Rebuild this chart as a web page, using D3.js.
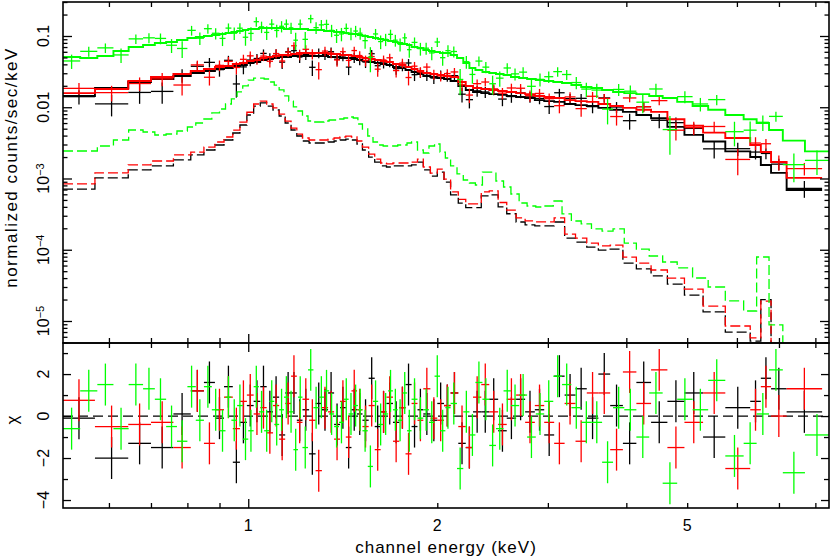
<!DOCTYPE html>
<html>
<head>
<meta charset="utf-8">
<script src="https://cdn.jsdelivr.net/npm/d3@7"></script>
<style>
  body { margin: 0; background: #fff; }
  svg text { font-family: "Liberation Sans", Arial, sans-serif; fill: #000; }
</style>
</head>
<body>
<svg id="chart" width="830" height="558"></svg>
<script>
// ---- channel grouping (keV bin edges) ----
const mosEdges = [0.507, 0.57, 0.644, 0.70, 0.76, 0.81, 0.85, 0.885, 0.915, 0.945,
  0.97, 0.995, 1.02, 1.045, 1.07, 1.095, 1.12, 1.145, 1.17, 1.195,
  1.22, 1.25, 1.28, 1.31, 1.34, 1.37, 1.40, 1.43, 1.46, 1.49,
  1.52, 1.555, 1.59, 1.625, 1.66, 1.70, 1.74, 1.78, 1.82, 1.86,
  1.90, 1.95, 2.00, 2.05, 2.10, 2.16, 2.22, 2.28, 2.35, 2.42,
  2.50, 2.58, 2.67, 2.76, 2.86, 2.96, 3.07, 3.19, 3.32, 3.46,
  3.61, 3.77, 3.95, 4.15, 4.38, 4.65, 4.95, 5.3, 5.75, 6.3,
  6.55, 6.8, 7.2, 8.2];

const pnEdges = [0.507, 0.54, 0.575, 0.61, 0.645, 0.68, 0.71, 0.74, 0.77, 0.80,
  0.825, 0.85, 0.875, 0.90, 0.92, 0.94, 0.96, 0.98, 1.00, 1.02,
  1.04, 1.06, 1.08, 1.10, 1.12, 1.14, 1.16, 1.18, 1.20, 1.22,
  1.245, 1.27, 1.295, 1.32, 1.345, 1.37, 1.395, 1.42, 1.445, 1.47,
  1.495, 1.52, 1.55, 1.58, 1.61, 1.64, 1.67, 1.70, 1.73, 1.76,
  1.79, 1.82, 1.86, 1.90, 1.94, 1.98, 2.02, 2.06, 2.10, 2.15,
  2.20, 2.25, 2.30, 2.36, 2.42, 2.48, 2.55, 2.62, 2.70, 2.78,
  2.87, 2.96, 3.06, 3.16, 3.27, 3.39, 3.52, 3.66, 3.81, 3.97,
  4.15, 4.35, 4.57, 4.82, 5.1, 5.4, 5.75, 6.15, 6.45, 6.75,
  7.1, 7.7, 8.41];

// ---- black (MOS1) ----
const blackModel = [0.0144, 0.0186, 0.0226, 0.0249, 0.0275, 0.0303, 0.0323, 0.0344, 0.0356, 0.0379,
  0.0392, 0.0418, 0.0432, 0.046, 0.0476, 0.0491, 0.0507, 0.0507, 0.0524, 0.0524,
  0.0524, 0.0524, 0.0524, 0.0524, 0.0507, 0.0507, 0.0491, 0.0491, 0.0476, 0.046,
  0.0446, 0.0432, 0.0418, 0.0405, 0.0392, 0.0367, 0.0356, 0.0333, 0.0313, 0.0293,
  0.0275, 0.0266, 0.0257, 0.0249, 0.0234, 0.0199, 0.0175, 0.0164, 0.0158, 0.0153,
  0.0149, 0.0144, 0.0139, 0.0135, 0.0126, 0.0122, 0.0119, 0.0111, 0.0107, 0.0104,
  0.0098, 0.0092, 0.0086, 0.0078, 0.0070, 0.0053, 0.0041, 0.0033, 0.0024, 0.0020,
  0.00155, 0.0012, 0.00069];
const blackLine = [0.00071, 0.00102, 0.00132, 0.0015, 0.00182, 0.00214, 0.00251, 0.00295, 0.00347, 0.00435,
  0.00563, 0.00778, 0.0104, 0.0115, 0.0104, 0.00915, 0.00754, 0.00601, 0.00479, 0.00395,
  0.00336, 0.00315, 0.00315, 0.00315, 0.00325, 0.00336, 0.00347, 0.00358, 0.00347, 0.00305,
  0.00251, 0.002, 0.0017, 0.0015, 0.00145, 0.0015, 0.0015, 0.0015, 0.00155, 0.0017,
  0.00132, 0.00108, 0.00123, 0.00089, 0.00059, 0.00045, 0.00039, 0.00039, 0.00057, 0.00059,
  0.0004, 0.00032, 0.000245, 0.000223, 0.000216, 0.000216, 0.000245, 0.000146, 0.000128, 0.000109,
  9.9e-5, 0.000102, 6.5e-5, 5.4e-5, 4.3e-5, 3.3e-5, 2.3e-5, 1.34e-5, 7.0e-6, 5.2e-6,
  2.0e-5, 2e-6, 1e-6];
const blackChi = [-0.1, -2.0, -1.3, -1.5, 0.1, 1.2, 1.6, -0.1, 1.4, -2.2,
  -0.3, 0.5, 0.7, 1.4, 0.2, 0.9, -0.9, 1.1, 1.1, -0.2,
  0.3, -1.8, 0.6, 0.3, 1.1, -0.4, 0.4, -1.5, 0.3, 0.1,
  -0.2, 1.8, -0.5, 0.2, 0.6, -0.3, 0.4, 1.5, -0.5, 0.3,
  0.1, -0.2, 0.6, 0.5, 1.1, -1.3, -1.5, 0.2, 0.2, 0.8,
  -0.7, -0.1, 0.8, 0.2, 0.3, -0.9, 1.9, 1.0, 1.3, -0.1,
  2.0, 0.5, -1.3, 1.6, -0.3, 0.7, 1.1, -1.0, 0.4, 0.7,
  1.8, 1.3, 0.2];
const blackErr = [0.22, 0.2, 0.22, 0.22, 0.22, 0.2, 0.2, 0.2, 0.2, 0.2,
  0.2, 0.2, 0.17, 0.17, 0.17, 0.17, 0.17, 0.17, 0.17, 0.17,
  0.17, 0.17, 0.17, 0.17, 0.17, 0.17, 0.17, 0.17, 0.17, 0.17,
  0.17, 0.17, 0.17, 0.17, 0.17, 0.17, 0.17, 0.17, 0.17, 0.17,
  0.17, 0.17, 0.17, 0.17, 0.17, 0.18, 0.18, 0.18, 0.18, 0.18,
  0.18, 0.18, 0.18, 0.18, 0.18, 0.18, 0.18, 0.19, 0.19, 0.19,
  0.19, 0.19, 0.19, 0.19, 0.21, 0.21, 0.21, 0.21, 0.23, 0.25,
  0.25, 0.25, 0.28];

// ---- red (MOS2) ----
const redModel = [0.0158, 0.018, 0.0234, 0.0266, 0.0293, 0.0323, 0.0344, 0.0367, 0.0379, 0.0405,
  0.0418, 0.0446, 0.046, 0.0491, 0.0507, 0.0524, 0.0541, 0.0541, 0.0559, 0.0577,
  0.0577, 0.0577, 0.0577, 0.0577, 0.0559, 0.0559, 0.0541, 0.0541, 0.0524, 0.0507,
  0.0491, 0.0476, 0.046, 0.0446, 0.0432, 0.0405, 0.0392, 0.0367, 0.0344, 0.0323,
  0.0303, 0.0293, 0.0284, 0.0275, 0.0266, 0.0226, 0.0199, 0.0186, 0.018, 0.0175,
  0.0169, 0.0164, 0.0158, 0.0153, 0.0144, 0.0139, 0.0135, 0.0126, 0.0122, 0.0119,
  0.0111, 0.0104, 0.0098, 0.0092, 0.0086, 0.0068, 0.0055, 0.0044, 0.0037, 0.00295,
  0.00235, 0.0017, 0.00102];
const redLine = [0.00084, 0.0012, 0.00155, 0.00176, 0.00214, 0.00235, 0.00276, 0.00325, 0.00382, 0.00478,
  0.0062, 0.0085, 0.0111, 0.0122, 0.0111, 0.0098, 0.008, 0.0064, 0.0051, 0.0042,
  0.0037, 0.00347, 0.00347, 0.00347, 0.00358, 0.0037, 0.00382, 0.00394, 0.00382, 0.00336,
  0.00276, 0.0022, 0.00187, 0.00165, 0.0016, 0.00165, 0.00165, 0.00165, 0.0017, 0.00187,
  0.00145, 0.00119, 0.00135, 0.00098, 0.00065, 0.00051, 0.00044, 0.00044, 0.00065, 0.00067,
  0.00046, 0.00036, 0.00028, 0.000254, 0.000246, 0.000246, 0.00028, 0.000166, 0.000146, 0.000124,
  0.000113, 0.000116, 7.9e-5, 6.5e-5, 5.2e-5, 4.0e-5, 2.8e-5, 1.62e-5, 8.5e-6, 5.8e-6,
  1.9e-5, 2e-6, 1e-6];
const redChi = [0.75, -0.5, -0.4, -0.3, -1.5, 1.2, -1.3, 0.3, 0.9, -0.6,
  0.7, 1.0, 0.1, 0.4, -0.8, 0.5, -1.1, 0.6, 1.9, -0.3,
  0.8, -0.2, -2.6, 0.4, 0.2, -1.1, 0.7, -1.0, 1.2, 0.3,
  -0.5, 0.5, -1.6, 0.2, 0.9, -1.2, 0.4, -1.8, 0.6, -0.2,
  1.3, -0.1, -0.2, 0.5, 1.1, -0.5, -1.5, 0.9, 1.5, 0.2,
  -0.4, 0.8, 1.0, -0.3, 0.5, -0.3, -1.3, 0.6, -1.2, 1.1,
  1.1, -1.6, 2.1, 0.6, 2.2, -1.5, -0.3, 1.1, -2.5, 0.3,
  1.4, 0.0, 1.3];
const redErr = [0.22, 0.22, 0.2, 0.2, 0.2, 0.18, 0.18, 0.18, 0.18, 0.18,
  0.18, 0.18, 0.16, 0.16, 0.16, 0.16, 0.16, 0.16, 0.16, 0.16,
  0.16, 0.16, 0.16, 0.16, 0.16, 0.16, 0.16, 0.16, 0.16, 0.16,
  0.16, 0.16, 0.16, 0.16, 0.16, 0.16, 0.16, 0.16, 0.16, 0.16,
  0.16, 0.16, 0.16, 0.16, 0.16, 0.17, 0.17, 0.17, 0.17, 0.17,
  0.17, 0.17, 0.17, 0.17, 0.17, 0.17, 0.17, 0.18, 0.18, 0.18,
  0.18, 0.18, 0.18, 0.18, 0.2, 0.2, 0.2, 0.2, 0.2, 0.22,
  0.22, 0.24, 0.27];

// ---- green (pn) ----
const greenModel = [0.0507, 0.0491, 0.0524, 0.0616, 0.0701, 0.0748, 0.0797, 0.0824, 0.0879, 0.0937,
  0.0968, 0.1, 0.1033, 0.1067, 0.1102, 0.1138, 0.1175, 0.1214, 0.1254, 0.1254,
  0.1295, 0.1295, 0.1295, 0.1295, 0.1295, 0.1254, 0.1254, 0.1254, 0.1254, 0.1254,
  0.1214, 0.1214, 0.1214, 0.1175, 0.1175, 0.1138, 0.1138, 0.1102, 0.1067, 0.1067,
  0.1033, 0.1, 0.0968, 0.0937, 0.0908, 0.0879, 0.0851, 0.0824, 0.0797, 0.0772,
  0.0748, 0.0701, 0.0679, 0.0636, 0.0616, 0.0596, 0.0577, 0.0577, 0.0541, 0.0491,
  0.0418, 0.0356, 0.0333, 0.0313, 0.0303, 0.0293, 0.0284, 0.0266, 0.0257, 0.0249,
  0.0241, 0.0234, 0.0226, 0.0219, 0.0205, 0.0192, 0.0186, 0.0175, 0.0164, 0.0158,
  0.0153, 0.0144, 0.0135, 0.0119, 0.0104, 0.0092, 0.0078, 0.0068, 0.0060, 0.0048,
  0.0034, 0.0024];
const greenLine = [0.00243, 0.00243, 0.00286, 0.00347, 0.00479, 0.00449, 0.00408, 0.00421, 0.00464, 0.00528,
  0.00601, 0.00684, 0.00831, 0.00945, 0.0111, 0.0131, 0.0164, 0.0199, 0.0241, 0.0257,
  0.0257, 0.0249, 0.0226, 0.0205, 0.0175, 0.0144, 0.0122, 0.0101, 0.00886, 0.00754,
  0.00641, 0.00621, 0.00621, 0.00641, 0.00662, 0.00662, 0.00684, 0.00706, 0.0073, 0.00706,
  0.00582, 0.00495, 0.00395, 0.00325, 0.00295, 0.00286, 0.00286, 0.00286, 0.00295, 0.00295,
  0.00315, 0.00325, 0.00251, 0.00228, 0.00286, 0.00305, 0.00235, 0.00194, 0.0015, 0.00116,
  0.000952, 0.000865, 0.00081, 0.00123, 0.00123, 0.000922, 0.00076, 0.000606, 0.000453, 0.000411,
  0.000398, 0.000411, 0.000483, 0.000318, 0.000253, 0.00023, 0.000196, 0.000183, 0.000196, 0.000124,
  0.000102, 8.17e-5, 6.73e-5, 5.55e-5, 4.01e-5, 3.0e-5, 1.91e-5, 1.38e-5, 7.91e-5, 8.8e-6,
  3e-6, 2e-6];
const greenChi = [-0.6, 1.2, 1.5, -0.6, 1.5, 1.3, 0.8, -0.5, -1.2, 1.4,
  -0.2, 1.4, 0.3, -0.7, 0.9, -0.2, 0.5, -1.1, -0.7, 1.4,
  0.2, -0.7, 0.7, -0.4, 0.3, 0.9, 0.2, -1.6, 0.9, -1.5,
  2.2, 0.4, 0.9, 1.2, 0.1, -0.5, -0.3, 0.8, 0.1, 0.5,
  0.3, -0.7, -2.4, 0.7, -0.4, 0.1, 1.2, 0.3, -0.2, 1.1,
  -0.7, 0.8, -0.1, 0.3, -0.3, 1.9, -0.7, 0.4, 0.6, -2.5,
  0.2, -0.9, 1.6, 0.8, -1.4, -0.6, 1.2, 0.5, 1.0, -1.0,
  0.1, 0.7, 1.9, 1.5, 0.4, -0.3, -0.3, -2.2, 0.4, 0.3,
  -1.0, 1.1, -3.2, 0.8, 0.3, 1.7, -1.9, -1.3, 0.1, 2.2,
  -2.7, -0.9];
const greenErr = [0.2, 0.2, 0.2, 0.2, 0.2, 0.2, 0.2, 0.2, 0.2, 0.2,
  0.19, 0.19, 0.19, 0.19, 0.19, 0.19, 0.19, 0.19, 0.19, 0.19,
  0.19, 0.19, 0.19, 0.19, 0.19, 0.19, 0.19, 0.19, 0.19, 0.19,
  0.2, 0.2, 0.2, 0.2, 0.2, 0.2, 0.2, 0.2, 0.2, 0.2,
  0.2, 0.2, 0.2, 0.2, 0.2, 0.2, 0.2, 0.2, 0.2, 0.2,
  0.2, 0.2, 0.2, 0.2, 0.2, 0.2, 0.2, 0.2, 0.2, 0.2,
  0.21, 0.21, 0.21, 0.21, 0.21, 0.21, 0.21, 0.21, 0.21, 0.21,
  0.21, 0.21, 0.21, 0.21, 0.21, 0.21, 0.21, 0.21, 0.21, 0.21,
  0.23, 0.23, 0.2, 0.23, 0.23, 0.23, 0.22, 0.23, 0.25, 0.25,
  0.2, 0.28];

// ---- axis labels ----
const yTopLabels = [0.1, 0.01, 1e-3, 1e-4, 1e-5];
const resLabels = [2, 0, -2, -4];
const xLabels = [1, 2, 5];

const svg = d3.select("#chart");

const x = d3.scaleLog().domain([0.507, 8.41]).range([63, 829]);
const yTop = d3.scaleLog().domain([4.91e-6, 0.3]).range([343, 2]);
const yRes = d3.scaleLinear().domain([-4.38, 3.48]).range([508, 343]);

const [xL, xR] = x.range();
const defs = svg.append("defs");
defs.append("clipPath").attr("id", "clipTop").append("rect")
  .attr("x", xL).attr("y", yTop.range()[1]).attr("width", xR - xL).attr("height", yTop.range()[0] - yTop.range()[1]);
defs.append("clipPath").attr("id", "clipRes").append("rect")
  .attr("x", xL).attr("y", yRes.range()[1]).attr("width", xR - xL).attr("height", yRes.range()[0] - yRes.range()[1]);

function makeBins(edges, model, line, chi, err) {
  return model.map((m, i) => ({ lo: edges[i], hi: edges[i + 1], m: m, c: line[i], chi: chi[i], r: err[i] }));
}

const datasets = [
  { color: "#000000", bins: makeBins(mosEdges, blackModel, blackLine, blackChi, blackErr) },
  { color: "#ff0000", bins: makeBins(mosEdges, redModel, redLine, redChi, redErr) },
  { color: "#00ff00", bins: makeBins(pnEdges, greenModel, greenLine, greenChi, greenErr) }
];

const gTop = svg.append("g").attr("clip-path", "url(#clipTop)");
const gRes = svg.append("g").attr("clip-path", "url(#clipRes)");

// zero line in residual panel
gRes.append("line")
  .attr("x1", xL).attr("x2", xR)
  .attr("y1", yRes(0)).attr("y2", yRes(0))
  .attr("stroke", "#000").attr("stroke-width", 1.3)
  .attr("stroke-dasharray", "10,5");

const stepLine = d3.line()
  .x(d => x(d[0]))
  .y(d => yTop(d[1]))
  .curve(d3.curveStepAfter);

function stepPts(bins, key) {
  const last = bins[bins.length - 1];
  return bins.map(b => [b.lo, b[key]]).concat([[last.hi, last[key]]]);
}

datasets.forEach(ds => {
  const b = ds.bins;
  const data = d => d.m * (1 + d.chi * d.r);
  const sig = d => d.m * d.r;

  // data crosses
  gTop.append("g").selectAll("line").data(b).join("line")
    .attr("x1", d => x(d.lo)).attr("x2", d => x(d.hi))
    .attr("y1", d => yTop(data(d))).attr("y2", d => yTop(data(d)))
    .attr("stroke", ds.color).attr("stroke-width", 1.3);
  gTop.append("g").selectAll("line").data(b).join("line")
    .attr("x1", d => x(Math.sqrt(d.lo * d.hi))).attr("x2", d => x(Math.sqrt(d.lo * d.hi)))
    .attr("y1", d => yTop(Math.max(data(d) - sig(d), 1e-9))).attr("y2", d => yTop(data(d) + sig(d)))
    .attr("stroke", ds.color).attr("stroke-width", 1.3);

  // total model
  gTop.append("path").attr("d", stepLine(stepPts(b, "m")))
    .attr("fill", "none").attr("stroke", ds.color).attr("stroke-width", 1.9);

  // line-emission component
  gTop.append("path").attr("d", stepLine(stepPts(b, "c")))
    .attr("fill", "none").attr("stroke", ds.color).attr("stroke-width", 1.3)
    .attr("stroke-dasharray", "10,4");

  // residuals
  gRes.append("g").selectAll("line").data(b).join("line")
    .attr("x1", d => x(d.lo)).attr("x2", d => x(d.hi))
    .attr("y1", d => yRes(d.chi)).attr("y2", d => yRes(d.chi))
    .attr("stroke", ds.color).attr("stroke-width", 1.3);
  gRes.append("g").selectAll("line").data(b).join("line")
    .attr("x1", d => x(Math.sqrt(d.lo * d.hi))).attr("x2", d => x(Math.sqrt(d.lo * d.hi)))
    .attr("y1", d => yRes(d.chi - 1)).attr("y2", d => yRes(d.chi + 1))
    .attr("stroke", ds.color).attr("stroke-width", 1.3);
});

// ---- ticks (inward on every side) ----
function drawTicks(axis, tx, ty) {
  const g = svg.append("g").attr("transform", `translate(${tx},${ty})`).call(axis);
  g.select(".domain").remove();
  g.selectAll(".tick text").remove();
  g.selectAll(".tick line").attr("stroke", "#000").attr("stroke-width", 1.3);
}
const isDecade = v => Math.abs(Math.log10(v) - Math.round(Math.log10(v))) < 1e-6;

const xMajor = x.ticks().filter(isDecade);
const xMinor = x.ticks().filter(v => !isDecade(v));
const yTopMajor = yTop.ticks().filter(isDecade);
const yTopMinor = yTop.ticks().filter(v => !isDecade(v));
const resMajor = d3.range(-4, 4).filter(v => v % 2 === 0);
const resMinor = d3.range(-4, 4).filter(v => v % 2 !== 0);

const [yTopB, yTopT] = yTop.range();
const [yResB, yResT] = yRes.range();

[[xMajor, 9], [xMinor, 5]].forEach(([vals, len]) => {
  drawTicks(d3.axisTop(x).tickValues(vals).tickSize(-len), 0, yTopT);
  drawTicks(d3.axisBottom(x).tickValues(vals).tickSize(-len), 0, yTopB);
  drawTicks(d3.axisTop(x).tickValues(vals).tickSize(-len), 0, yResT);
  drawTicks(d3.axisBottom(x).tickValues(vals).tickSize(-len), 0, yResB);
});
[[yTopMajor, 9], [yTopMinor, 4.5]].forEach(([vals, len]) => {
  drawTicks(d3.axisLeft(yTop).tickValues(vals).tickSize(-len), xL, 0);
  drawTicks(d3.axisRight(yTop).tickValues(vals).tickSize(-len), xR, 0);
});
[[resMajor, 8], [resMinor, 5]].forEach(([vals, len]) => {
  drawTicks(d3.axisLeft(yRes).tickValues(vals).tickSize(-len), xL, 0);
  drawTicks(d3.axisRight(yRes).tickValues(vals).tickSize(-len), xR, 0);
});

// frames
svg.append("rect").attr("x", xL).attr("y", yTopT).attr("width", xR - xL).attr("height", yTopB - yTopT)
  .attr("fill", "none").attr("stroke", "#000").attr("stroke-width", 1.6);
svg.append("rect").attr("x", xL).attr("y", yResT).attr("width", xR - xL).attr("height", yResB - yResT)
  .attr("fill", "none").attr("stroke", "#000").attr("stroke-width", 1.6);

// ---- tick labels ----
yTopLabels.forEach(v => {
  const t = svg.append("text")
    .attr("transform", `translate(49,${yTop(v)}) rotate(-90)`)
    .attr("text-anchor", "middle").style("font-size", "16px");
  if (v >= 0.01) {
    t.text(String(v));
  } else {
    t.append("tspan").text("10");
    t.append("tspan").attr("dy", "-0.5em").style("font-size", "11px")
      .text("\u2212" + Math.round(-Math.log10(v)));
  }
});
resLabels.forEach(v => {
  svg.append("text")
    .attr("transform", `translate(49,${yRes(v)}) rotate(-90)`)
    .attr("text-anchor", "middle").style("font-size", "16px")
    .text(String(v).replace("-", "\u2212"));
});
xLabels.forEach(v => {
  svg.append("text")
    .attr("x", x(v)).attr("y", 531)
    .attr("text-anchor", "middle").style("font-size", "16px")
    .text(v);
});

// ---- axis titles ----
svg.append("text")
  .attr("transform", `translate(17,${(yTopT + yTopB) / 2 - 5}) rotate(-90)`)
  .attr("text-anchor", "middle").style("font-size", "17px").style("letter-spacing", "1.5px")
  .text("normalized counts/sec/keV");
svg.append("text")
  .attr("transform", `translate(18,${yRes(0) + 4}) rotate(-90)`)
  .attr("text-anchor", "middle").style("font-size", "17px")
  .text("\u03c7");
svg.append("text")
  .attr("x", (xL + xR) / 2).attr("y", 553)
  .attr("text-anchor", "middle").style("font-size", "17px").style("letter-spacing", "1px")
  .text("channel energy (keV)");
</script>
</body>
</html>
